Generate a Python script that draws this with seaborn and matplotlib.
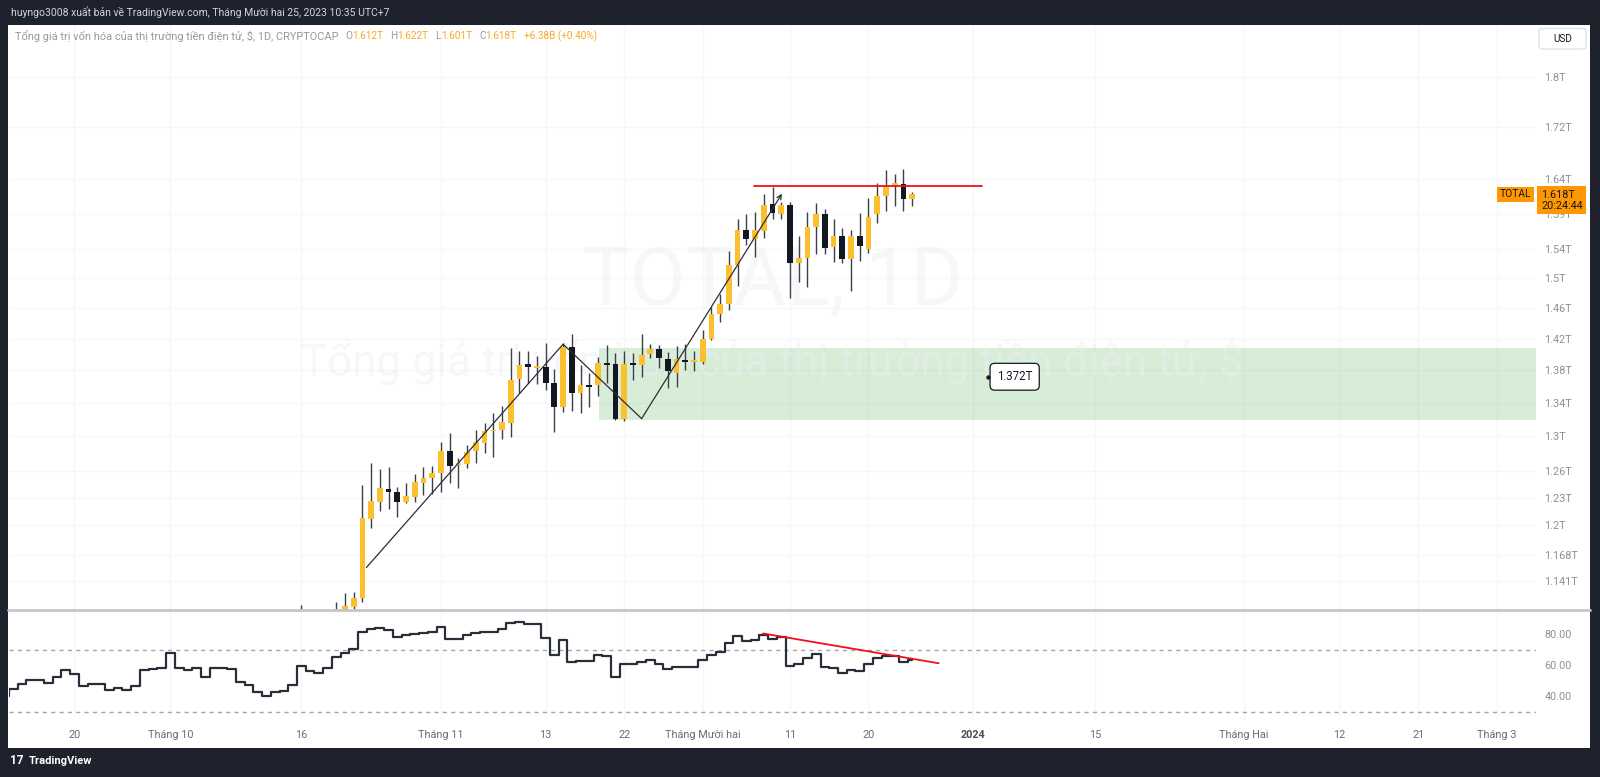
import numpy as np
import pandas as pd
import matplotlib
matplotlib.use("Agg")
import matplotlib.pyplot as plt
import matplotlib.dates as mdates
import matplotlib.transforms as mtransforms
from matplotlib.patches import Rectangle, FancyBboxPatch
from matplotlib.lines import Line2D
from matplotlib.ticker import FixedLocator, FixedFormatter, NullLocator
import seaborn as sns

# ---------------- data ----------------
candle_start = "2023-10-16"
opens = [1.078, 1.095, 1.090, 1.080, 1.095, 1.108, 1.1144, 1.1235, 1.2064, 1.2254,
         1.2395, 1.2362, 1.2254, 1.2309, 1.2466, 1.2516,
         1.2573, 1.2829, 1.2668, 1.2675, 1.2829, 1.2926, 1.3060, 1.3071, 1.3162, 1.3696,
         1.3884, 1.3830, 1.3846, 1.3639, 1.3354, 1.4091, 1.3517, 1.3618, 1.3614, 1.3893,
         1.3880, 1.3206, 1.3884, 1.3863, 1.4000, 1.4069, 1.3943, 1.3763, 1.3917, 1.3909,
         1.3909, 1.4193, 1.4517, 1.4654, 1.5180, 1.5664, 1.5537, 1.5658, 1.6045, 1.5903,
         1.6026, 1.5212, 1.5277, 1.5715, 1.5892, 1.5425, 1.5588, 1.5259, 1.5588, 1.5401,
         1.5897, 1.6153, 1.6319, 1.6333, 1.612]
highs = [1.116, 1.105, 1.100, 1.100, 1.1195, 1.128, 1.1297, 1.2440, 1.2694, 1.2622,
         1.2648, 1.2421, 1.2466, 1.2565, 1.2648, 1.2659,
         1.2930, 1.3043, 1.2752, 1.2899, 1.3075, 1.3162, 1.3282, 1.3362, 1.4078, 1.4047,
         1.4047, 1.3983, 1.4150, 1.3813, 1.4142, 1.4261, 1.3867, 1.3763, 1.3971, 1.4119,
         1.4014, 1.4047, 1.4022, 1.4257, 1.4133, 1.4119, 1.4034, 1.4110, 1.4133, 1.4043,
         1.4313, 1.4609, 1.4787, 1.5377, 1.5820, 1.5892, 1.5921, 1.6186, 1.6293, 1.6075,
         1.6075, 1.5583, 1.5930, 1.6060, 1.5964, 1.5820, 1.5692, 1.5668, 1.5906, 1.6132,
         1.6343, 1.6541, 1.6477, 1.6556, 1.622]
lows = [1.070, 1.080, 1.075, 1.075, 1.090, 1.100, 1.112, 1.1195, 1.1966, 1.2151,
        1.2170, 1.2086, 1.2237, 1.2251, 1.2329, 1.2340,
        1.2365, 1.2459, 1.2410, 1.2630, 1.2687, 1.2802, 1.2756, 1.2965, 1.2996, 1.3517,
        1.3639, 1.3627, 1.3557, 1.3051, 1.3294, 1.3306, 1.3282, 1.3354, 1.3484, 1.3647,
        1.3194, 1.3186, 1.3680, 1.3721, 1.3951, 1.3825, 1.3578, 1.3590, 1.3804, 1.3795,
        1.3880, 1.4184, 1.4413, 1.4574, 1.4894, 1.5450, 1.5295, 1.5550, 1.5820, 1.5820,
        1.4729, 1.4952, 1.4884, 1.5332, 1.5328, 1.5225, 1.5203, 1.4827, 1.5235, 1.5342,
        1.5763, 1.5944, 1.6012, 1.5944, 1.601]
closes = [1.095, 1.090, 1.080, 1.095, 1.108, 1.115, 1.1235, 1.2078, 1.2262, 1.2407,
          1.2362, 1.2254, 1.2313, 1.2474, 1.2516, 1.2573,
          1.2829, 1.2656, 1.2672, 1.2821, 1.2934, 1.3063, 1.3066, 1.3170, 1.3676, 1.3871,
          1.3842, 1.3836, 1.3639, 1.3354, 1.4091, 1.3517, 1.3618, 1.3594, 1.3893, 1.3868,
          1.3206, 1.3884, 1.3868, 1.3993, 1.4069, 1.3951, 1.3795, 1.3939, 1.3905, 1.3921,
          1.4193, 1.4517, 1.4654, 1.5180, 1.5661, 1.5537, 1.5664, 1.6026, 1.5915, 1.6026,
          1.5212, 1.5277, 1.5715, 1.5892, 1.5419, 1.5588, 1.5259, 1.5588, 1.5443, 1.5848,
          1.6158, 1.6319, 1.6329, 1.6109, 1.618]

rsi_start = "2023-09-12"
rsi = [40.0, 44.5, 47.7, 50.5, 50.5, 48.4, 52.2, 56.8, 54.4, 46.6,
       47.7, 47.7, 44.1, 45.4, 44.3, 46.6, 56.8, 57.3, 58.1, 67.7,
       58.1, 57.0, 58.5, 52.7, 58.5, 58.1, 57.4, 49.0, 47.3, 43.0,
       40.4, 42.6, 43.4, 47.1, 59.5, 56.5, 54.8, 58.3, 65.5, 68.1,
       70.3, 81.7, 83.2, 83.8, 82.8, 78.1, 79.5, 80.2, 80.6, 81.7,
       84.9, 77.0, 77.0, 79.3, 80.6, 81.7, 81.7, 83.2, 87.1, 88.2,
       86.7, 86.7, 77.5, 66.6, 76.3, 62.3, 63.0, 62.7, 66.6, 66.2,
       52.3, 60.8, 60.8, 62.3, 63.4, 60.8, 57.4, 59.1, 59.1, 59.1,
       63.4, 66.6, 68.8, 74.6, 78.9, 75.7, 76.3, 79.5, 77.2, 78.0,
       59.5, 60.8, 64.5, 67.1, 58.7, 58.1, 54.8, 57.0, 56.6, 60.8,
       64.5, 65.9, 65.9, 62.3, 63.4]

price_ticks = [1.141, 1.168, 1.2, 1.23, 1.26, 1.3, 1.34, 1.38, 1.42, 1.46,
               1.5, 1.54, 1.59, 1.64, 1.72, 1.8]
price_tick_labels = ["1.141T", "1.168T", "1.2T", "1.23T", "1.26T", "1.3T", "1.34T",
                     "1.38T", "1.42T", "1.46T", "1.5T", "1.54T", "1.59T", "1.64T",
                     "1.72T", "1.8T"]
rsi_ticks = [40, 60, 80]
rsi_tick_labels = ["40.00", "60.00", "80.00"]
rsi_levels = [30, 70]

time_ticks = ["2023-09-20", "2023-10-01", "2023-10-16", "2023-11-01", "2023-11-13",
              "2023-11-22", "2023-12-01", "2023-12-11", "2023-12-20", "2024-01-01",
              "2024-01-15", "2024-02-01", "2024-02-12", "2024-02-21", "2024-03-01"]
time_tick_labels = ["20", "Tháng 10", "16", "Tháng 11", "13", "22", "Tháng Mười hai",
                    "11", "20", "2024", "15", "Tháng Hai", "12", "21", "Tháng 3"]

# drawings on the chart
trend_dates = ["2023-10-23 11:00", "2023-11-15 00:00", "2023-11-24 00:00"]
trend_prices = [1.1545, 1.413, 1.321]
arrow_end_date = "2023-12-10 02:00"
arrow_end_price = 1.619
resistance_dates = ["2023-12-06 20:00", "2024-01-02 00:00"]
resistance_price = 1.630
zone_start = "2023-11-19 03:00"
zone_low, zone_high = 1.3194, 1.4085
zone_label = "1.372T"
zone_label_price = 1.372
zone_label_date = "2024-01-05 18:00"
zone_dot_date = "2024-01-02 16:00"
rsi_trend_dates = ["2023-12-07 22:00", "2023-12-28 01:00"]
rsi_trend_values = [80.5, 61.3]

symbol = "TOTAL"
last_price = 1.618
last_price_label = "1.618T"
countdown = "20:24:44"

header = "huyngo3008 xuất bản về TradingView.com, Tháng Mười hai 25, 2023 10:35 UTC+7"
legend_title = "Tổng giá trị vốn hóa của thị trường tiền điện tử, $, 1D, CRYPTOCAP"
legend_ohlc = [("O", "1.612T"), ("H", "1.622T"), ("L", "1.601T"), ("C", "1.618T")]
legend_change = "+6.38B (+0.40%)"
watermark1 = "TOTAL, 1D"
watermark2 = "Tổng giá trị vốn hóa của thị trường tiền điện tử, $"

# ---------------- style ----------------
sns.set_style("white")
plt.rcParams["font.family"] = ["Roboto", "DejaVu Sans"]

UP = "#fbc02d"
DOWN = "#131722"
WICK = "#3b3f4a"
FRAME = "#1e222d"
GRID = "#f6f7f9"
AXTXT = "#8d9099"
ORANGE = "#ff9800"
LEG_ORANGE = "#f9a825"

W, H = 1600, 777
fig = plt.figure(figsize=(16, 7.77), dpi=100, facecolor=FRAME)


def fx(px):
    return px / W


def fy(py):
    return 1 - py / H


fig.patches.append(Rectangle((fx(8), fy(748)), fx(1590) - fx(8), fy(25) - fy(748),
                             transform=fig.transFigure, facecolor="white",
                             edgecolor="none", zorder=-10))

ax = fig.add_axes([fx(8.5), fy(610), fx(1536) - fx(8.5), fy(25) - fy(610)])
ax2 = fig.add_axes([fx(8.5), fy(720), fx(1536) - fx(8.5), fy(611) - fy(720)])

sep20 = mdates.date2num(pd.Timestamp("2023-09-20"))
xmin, xmax = sep20 - 7.56, sep20 + 167.5

# ---------------- price panel ----------------
cd = mdates.date2num(pd.date_range(candle_start, periods=len(opens), freq="D"))
o = np.array(opens)
c = np.array(closes)
hi = np.array(highs)
lo = np.array(lows)
up = c >= o
colors = np.where(up, UP, DOWN)
bottom = np.minimum(o, c)
top = np.maximum(o, c)
top = np.maximum(top, bottom * 1.0015)

ax.vlines(cd, lo, hi, color=WICK, lw=1.0, zorder=3)
ax.bar(cd, top - bottom, bottom=bottom, width=0.66, color=colors, lw=0, zorder=4)

ax.set_yscale("log")
ax.set_ylim(1.111, 1.886)
ax.set_xlim(xmin, xmax)

# zone
zs = mdates.date2num(pd.Timestamp(zone_start))
ax.add_patch(Rectangle((zs, zone_low), xmax + 5 - zs, zone_high - zone_low,
                       facecolor="#4caf50", alpha=0.22, edgecolor="none", zorder=1.5))

# watermark
ax.text(0.5, 0.522, watermark1, transform=ax.transAxes, ha="center", va="baseline",
        fontsize=58, color="#eceef2", alpha=0.45, zorder=2)
ax.text(0.5, 0.40, watermark2, transform=ax.transAxes, ha="center", va="baseline",
        fontsize=31.5, color="#eceef2", alpha=0.45, zorder=2)

# trend line with arrow
td = mdates.date2num(pd.to_datetime(trend_dates))
ax.plot(td, trend_prices, color="#2a2e39", lw=0.9, zorder=5)
ax.annotate("", xy=(mdates.date2num(pd.Timestamp(arrow_end_date)), arrow_end_price),
            xytext=(td[-1], trend_prices[-1]),
            arrowprops=dict(arrowstyle="->", color="#2a2e39", lw=0.9,
                            shrinkA=0, shrinkB=0, mutation_scale=8), zorder=5)

# resistance line
rd_ = mdates.date2num(pd.to_datetime(resistance_dates))
ax.plot(rd_, [resistance_price, resistance_price], color="#f0101a", lw=1.3, zorder=5)

# zone label
ax.text(mdates.date2num(pd.Timestamp(zone_label_date)), zone_label_price, zone_label,
        ha="center", va="center", fontsize=8.3, color="#131722", zorder=6,
        bbox=dict(boxstyle="round,pad=0.6,rounding_size=0.4", fc="white",
                  ec="#131722", lw=0.9))
ax.plot([mdates.date2num(pd.Timestamp(zone_dot_date))], [zone_label_price], marker="o",
        ms=2.2, color="#131722", zorder=7)

# axes formatting
ax.yaxis.tick_right()
ax.yaxis.set_major_locator(FixedLocator(price_ticks))
ax.yaxis.set_major_formatter(FixedFormatter(price_tick_labels))
ax.yaxis.set_minor_locator(NullLocator())
tt = mdates.date2num(pd.to_datetime(time_ticks))
ax.xaxis.set_major_locator(FixedLocator(tt))
ax.tick_params(axis="x", labelbottom=False, length=0)
ax.tick_params(axis="y", length=0, pad=6, labelsize=7.8, labelcolor=AXTXT)
ax.grid(True, color=GRID, lw=1, zorder=0)
ax.set_axisbelow(True)
for s in ax.spines.values():
    s.set_visible(False)
ax.set_facecolor("white")

# last price labels
trans = mtransforms.blended_transform_factory(ax.transAxes, ax.transData)
ax.annotate(f"{last_price_label}\n{countdown}", xy=(1.0, last_price), xycoords=trans,
            xytext=(5, -6), textcoords="offset pixels", ha="left", va="center",
            fontsize=7.8, color="#131722", linespacing=1.05, annotation_clip=False,
            bbox=dict(boxstyle="square,pad=0.35", fc=ORANGE, ec="none"), zorder=10)
ax.annotate(symbol, xy=(1.0, last_price), xycoords=trans, xytext=(-5, 0),
            textcoords="offset pixels", ha="right", va="center", fontsize=7.4,
            color="#131722", annotation_clip=False,
            bbox=dict(boxstyle="square,pad=0.25", fc=ORANGE, ec="none"), zorder=10)

# ---------------- RSI panel ----------------
rdates = mdates.date2num(pd.date_range(rsi_start, periods=len(rsi), freq="D"))
sns.lineplot(x=rdates, y=rsi, ax=ax2, drawstyle="steps-mid", color="#2a2e39",
             lw=1.6, estimator=None, sort=False, legend=False, zorder=4)
for lvl in rsi_levels:
    ax2.axhline(lvl, color="#a3a6af", lw=1.0, ls=(0, (3, 3)), zorder=2)
rtd = mdates.date2num(pd.to_datetime(rsi_trend_dates))
ax2.plot(rtd, rsi_trend_values, color="#f0101a", lw=1.3, zorder=5)

ax2.set_xlim(xmin, xmax)
ax2.set_ylim(24.7, 95.0)
ax2.set_xlabel("")
ax2.set_ylabel("")
ax2.yaxis.tick_right()
ax2.yaxis.set_major_locator(FixedLocator(rsi_ticks))
ax2.yaxis.set_major_formatter(FixedFormatter(rsi_tick_labels))
ax2.xaxis.set_major_locator(FixedLocator(tt))
ax2.xaxis.set_major_formatter(FixedFormatter(time_tick_labels))
ax2.tick_params(axis="y", length=0, pad=6, labelsize=7.8, labelcolor=AXTXT)
ax2.tick_params(axis="x", length=0, pad=7, labelsize=7.8, labelcolor="#6a6d78")
for lab in ax2.get_xticklabels():
    if lab.get_text() == "2024":
        lab.set_fontweight("bold")
        lab.set_color("#4a4d58")
ax2.grid(True, axis="x", color=GRID, lw=1, zorder=0)
ax2.set_axisbelow(True)
for s in ax2.spines.values():
    s.set_visible(False)
ax2.set_facecolor("white")

# panel separator
fig.add_artist(Line2D([fx(8), fx(1590)], [fy(610), fy(610)], transform=fig.transFigure,
                      color="#c4c6cc", lw=2, zorder=3))

# ---------------- header / legend / footer ----------------
fig.text(fx(11), fy(12.5), header, color="#d1d4dc", fontsize=7.5, va="center", ha="left")

renderer = fig.canvas.get_renderer()
x = 15.0
legend_y = fy(36)
t = fig.text(fx(x), legend_y, legend_title, color="#9598a1", fontsize=7.95, va="center")
x += t.get_window_extent(renderer).width + 7
for letter, val in legend_ohlc:
    t = fig.text(fx(x), legend_y, letter, color="#9598a1", fontsize=7.2, va="center")
    x += t.get_window_extent(renderer).width
    t = fig.text(fx(x), legend_y, val, color=LEG_ORANGE, fontsize=7.2, va="center")
    x += t.get_window_extent(renderer).width + 7
fig.text(fx(x), legend_y, legend_change, color=LEG_ORANGE, fontsize=7.2, va="center")

# USD button
fig.patches.append(FancyBboxPatch((fx(1539), fy(49)), fx(1586) - fx(1539), fy(28.5) - fy(49),
                                  boxstyle="round,pad=0,rounding_size=0.003",
                                  transform=fig.transFigure, facecolor="white",
                                  edgecolor="#e0e3eb", lw=1.0, zorder=1))
fig.text(fx(1562.5), fy(38.5), "USD", color="#131722", fontsize=7.2, ha="center",
         va="center", zorder=6)

# footer
fig.text(fx(10), fy(761), "17", color="white", fontsize=8.5, fontweight="bold", va="center")
fig.text(fx(29), fy(761), "TradingView", color="white", fontsize=8, fontweight="bold", va="center")

fig.savefig("out.png", dpi=100, facecolor=fig.get_facecolor())
